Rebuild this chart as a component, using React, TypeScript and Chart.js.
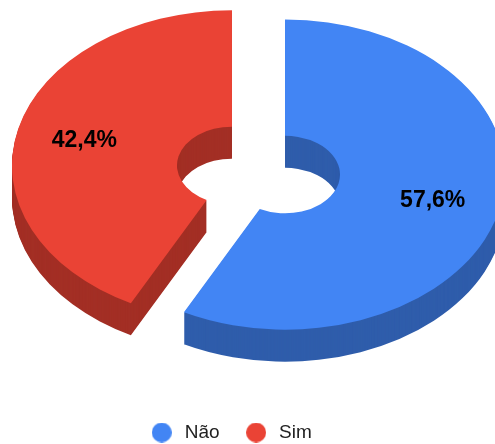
import React, { useEffect, useRef } from "react";
import { Chart, registerables } from "chart.js";

Chart.register(...registerables);

const categories = ["Não", "Sim"];
const values = [57.6, 42.4];
const topColors = ["#4285f4", "#ea4335"];
const sideColors = ["#2f5dab", "#a32f25"];

const FONT = "'Liberation Sans', Arial, sans-serif";
const CENTER_X = 258.5;
const CENTER_Y = 170;
const TILT = 0.705;
const EXPLODE = 27.3;
const DEPTH = 32;
const LABEL_RADIUS = 152;

const dot = (color: string) => {
  const c = document.createElement("canvas");
  c.width = 20;
  c.height = 20;
  const g = c.getContext("2d") as CanvasRenderingContext2D;
  g.fillStyle = color;
  g.beginPath();
  g.arc(10, 10, 10, 0, Math.PI * 2);
  g.fill();
  return c;
};

const pie3d = {
  id: "pie3d",
  beforeDatasetsDraw(chart: any) {
    const ctx = chart.ctx;
    const arcs = chart.getDatasetMeta(0).data;
    const place = (arc: any, lift: number) => {
      const mid = (arc.startAngle + arc.endAngle) / 2;
      ctx.translate(
        CENTER_X + EXPLODE * Math.cos(mid),
        CENTER_Y + EXPLODE * Math.sin(mid) * TILT + lift
      );
      ctx.scale(1, TILT);
      ctx.translate(-arc.x, -arc.y);
    };
    for (let d = DEPTH; d >= 0; d--) {
      arcs.forEach((arc: any, i: number) => {
        const original = arc.options;
        arc.options = { ...original, backgroundColor: d === 0 ? topColors[i] : sideColors[i] };
        ctx.save();
        place(arc, d);
        arc.draw(ctx);
        ctx.restore();
        arc.options = original;
      });
    }
    ctx.save();
    ctx.font = `bold 23px ${FONT}`;
    ctx.fillStyle = "#000";
    ctx.textAlign = "center";
    ctx.textBaseline = "middle";
    arcs.forEach((arc: any, i: number) => {
      const mid = (arc.startAngle + arc.endAngle) / 2;
      const x = CENTER_X + (EXPLODE + LABEL_RADIUS) * Math.cos(mid);
      const y = CENTER_Y + (EXPLODE + LABEL_RADIUS) * Math.sin(mid) * TILT + 1;
      ctx.fillText(values[i].toFixed(1).replace(".", ",") + "%", x, y);
    });
    ctx.restore();
    return false;
  },
};

export default function App() {
  const ref = useRef<HTMLCanvasElement>(null);
  useEffect(() => {
    const chart = new Chart(ref.current as HTMLCanvasElement, {
      type: "doughnut",
      data: {
        labels: categories,
        datasets: [{ data: values, backgroundColor: topColors, borderWidth: 0 }],
      },
      options: {
        responsive: false,
        animation: false,
        radius: 220,
        cutout: 50,
        layout: { padding: { right: 35, bottom: -8 } },
        plugins: {
          tooltip: { enabled: false },
          legend: {
            position: "bottom",
            labels: {
              usePointStyle: true,
              boxHeight: 14.14,
              pointStyleWidth: 27,
              padding: 23,
              color: "#222",
              font: { family: FONT, size: 19 },
              generateLabels: (c: any) =>
                Chart.overrides.doughnut.plugins.legend.labels
                  .generateLabels(c)
                  .map((item: any, i: number) => ({ ...item, pointStyle: dot(topColors[i]) })),
            },
          },
        },
      },
      plugins: [pie3d],
    } as any);
    return () => chart.destroy();
  }, []);
  return (
    <div style={{ position: "fixed", left: 0, top: 0, width: 495, height: 444, overflow: "hidden", background: "#fff" }}>
      <canvas ref={ref} width={495} height={444} style={{ display: "block" }} />
    </div>
  );
}
